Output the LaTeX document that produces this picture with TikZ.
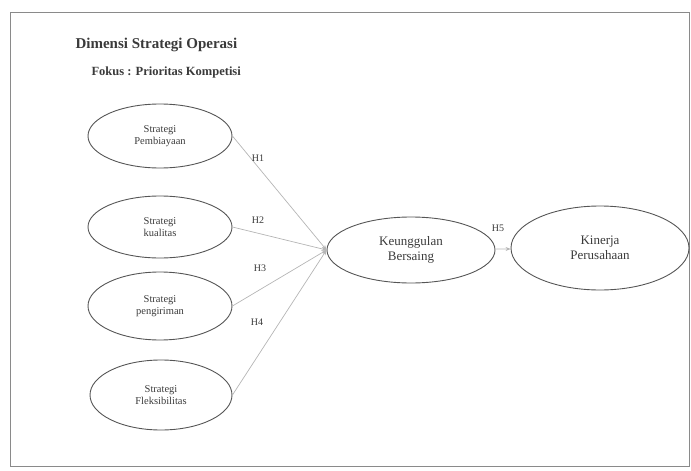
\documentclass[tikz,border=0pt]{standalone}
\usepackage{fontspec}
\setmainfont{Liberation Serif}
\definecolor{FLine}{HTML}{555555}
\definecolor{FFrame}{HTML}{8A8A8A}
\definecolor{FArrow}{HTML}{B5B5B5}
\definecolor{FText}{HTML}{3A3A3A}
\usetikzlibrary{arrows.meta,positioning,shapes.geometric}
\begin{document}
\begin{tikzpicture}[x=1pt,y=-1pt,
    var/.style={ellipse,draw=FLine,line width=0.9pt,text=FText,
                align=center,font=\fontsize{10.5}{12}\selectfont},
    link/.style={draw=FArrow,line width=0.7pt,-{Stealth[length=5pt,width=4pt]}},
    hyp/.style={text=FText,font=\fontsize{10}{12}\selectfont}]
  \useasboundingbox (0,0) rectangle (691,471);
  \draw[FFrame,line width=0.8pt] (10,12) rectangle (689,466);
  % heading
  \node[anchor=west,text=FText,font=\fontsize{15}{17}\selectfont\bfseries] (judul) at (72,45) {Dimensi Strategi Operasi};
  \node[anchor=west,text=FText,font=\fontsize{12.5}{14}\selectfont\bfseries] (fokus) at (88,72) {Fokus : Prioritas Kompetisi};
  % operations strategies
  \node[var,minimum width=144pt,minimum height=64pt] (s1) at (160,136) {Strategi\\Pembiayaan};
  \node[var,minimum width=144pt,minimum height=62pt] (s2) at (160,227) {Strategi\\kualitas};
  \node[var,minimum width=144pt,minimum height=68pt] (s3) at (160,306) {Strategi\\pengiriman};
  \node[var,minimum width=142pt,minimum height=70pt] (s4) at (161,395) {Strategi\\Fleksibilitas};
  \node[var,minimum width=168pt,minimum height=66pt,font=\fontsize{13}{15}\selectfont] (ku) at (411,250) {Keunggulan\\Bersaing};
  \node[var,minimum width=178pt,minimum height=84pt,font=\fontsize{13}{15}\selectfont] (kp) at (600,248) {Kinerja\\Perusahaan};
  % hypotheses
  \draw[link] (s1.east) -- (ku.west);
  \draw[link] (s2.east) -- (ku.west);
  \draw[link] (s3.east) -- (ku.west);
  \draw[link] (s4.east) -- (ku.west);
  \draw[link] (ku) -- (kp);
  \node[hyp] (h1) at (258,158) {H1};
  \node[hyp] (h2) at (258,220) {H2};
  \node[hyp] (h3) at (260,268) {H3};
  \node[hyp] (h4) at (257,322) {H4};
  \node[hyp] (h5) at (498,228) {H5};
\end{tikzpicture}
\end{document}
